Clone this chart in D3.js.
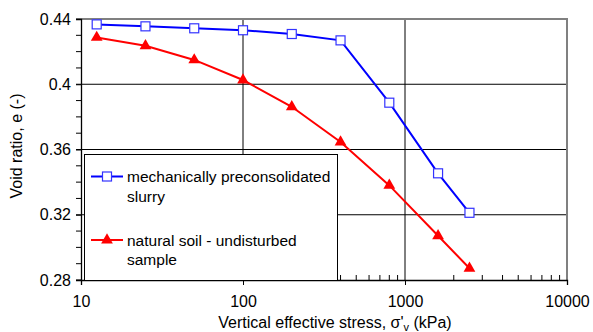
<!DOCTYPE html>
<html><head><meta charset="utf-8">
<script src="https://cdn.jsdelivr.net/npm/d3@7"></script>
<style>body{margin:0;background:#fff}svg{display:block;font-family:"Liberation Sans",Arial,sans-serif}</style>
</head><body>
<div id="chart"></div>
<script>
const stress = [12.5, 25, 50, 100, 200, 400, 800, 1600, 2500];
const slurry = [0.4367, 0.4355, 0.4343, 0.4331, 0.4308, 0.4269, 0.3887, 0.3454, 0.3212];
const natural = [0.4287, 0.4236, 0.4149, 0.4026, 0.3862, 0.3646, 0.3380, 0.3071, 0.2872];
const xTicks = [10, 100, 1000, 10000];
const yTicks = [0.28, 0.32, 0.36, 0.40, 0.44];
const seriesNames = ["mechanically preconsolidated|slurry", "natural soil - undisturbed|sample"];

const W = 593, H = 332;
const m = {l: 81, r: 26, t: 19, b: 52};
const FONT = "Liberation Sans, Arial, sans-serif";
const svg = d3.select("#chart").append("svg").attr("width", W).attr("height", H);
const x = d3.scaleLog().domain([10, 10000]).range([m.l, W - m.r]);
const y = d3.scaleLinear().domain([0.28, 0.44]).range([H - m.b, m.t]);
const x0 = x.range()[0], x1 = x.range()[1], y0 = y.range()[0], y1 = y.range()[1];

// gridlines
const g = svg.append("g");
yTicks.filter(d => d > 0.28 && d < 0.44).forEach(d => {
  g.append("line").attr("x1", x0).attr("x2", x1).attr("y1", y(d)).attr("y2", y(d)).attr("stroke", "#000").attr("stroke-width", 1);
});
xTicks.filter(d => d > 10 && d < 10000).forEach(d => {
  g.append("line").attr("x1", x(d)).attr("x2", x(d)).attr("y1", y0).attr("y2", y1).attr("stroke", "#000").attr("stroke-width", 1);
});
// plot border top & right gray
g.append("line").attr("x1", x0).attr("x2", x1 + 1).attr("y1", y1).attr("y2", y1).attr("stroke", "#808080").attr("stroke-width", 2);
g.append("line").attr("x1", x1).attr("x2", x1).attr("y1", y1).attr("y2", y0).attr("stroke", "#808080").attr("stroke-width", 2);

// x minor ticks (inside)
const minors = [];
[10, 100, 1000].forEach(dec => { for (let k = 2; k <= 9; k++) minors.push(dec * k); });
svg.append("g").selectAll("line").data(minors).join("line")
  .attr("x1", d => x(d)).attr("x2", d => x(d)).attr("y1", y0).attr("y2", y0 - 5)
  .attr("stroke", "#000").attr("stroke-width", 1);

// x axis
const xa = svg.append("g").attr("transform", `translate(0,${y0})`)
  .call(d3.axisBottom(x).tickValues(xTicks).tickFormat(d3.format("d")).tickSize(5).tickPadding(11));
xa.select(".domain").attr("stroke-width", 1.3);
xa.selectAll("text").attr("font-size", 16).attr("fill", "#000").attr("font-family", FONT);

// y axis
const yMinor = d3.range(28, 45).map(v => v / 100);
svg.append("g").selectAll("line").data(yMinor).join("line")
  .attr("x1", x0 - 5).attr("x2", x0).attr("y1", d => y(d)).attr("y2", d => y(d))
  .attr("stroke", "#000").attr("stroke-width", 1);
const ya = svg.append("g").attr("transform", `translate(${x0},0)`)
  .call(d3.axisLeft(y).tickValues(yTicks).tickFormat(d => d3.format(".2~f")(d)).tickSize(5).tickPadding(5));
ya.select(".domain").attr("stroke-width", 1.3);
ya.selectAll("text").attr("font-size", 16).attr("fill", "#000").attr("font-family", FONT);

// series
const line = d3.line().x(d => x(d[0])).y(d => y(d[1]));
const dBlue = stress.map((s, i) => [s, slurry[i]]);
const dRed = stress.map((s, i) => [s, natural[i]]);
const tri = d3.symbol().type(d3.symbolTriangle).size(60);

svg.append("path").datum(dRed).attr("d", line).attr("fill", "none").attr("stroke", "#ff0000").attr("stroke-width", 2);
svg.append("g").selectAll("path").data(dRed).join("path")
  .attr("d", tri).attr("transform", d => `translate(${x(d[0])},${y(d[1])})`).attr("fill", "#ff0000");
svg.append("path").datum(dBlue).attr("d", line).attr("fill", "none").attr("stroke", "#0000ff").attr("stroke-width", 2);
svg.append("g").selectAll("rect").data(dBlue).join("rect")
  .attr("x", d => x(d[0]) - 4.5).attr("y", d => y(d[1]) - 4.5).attr("width", 9).attr("height", 9)
  .attr("fill", "#fff").attr("stroke", "#3333ff").attr("stroke-width", 1.2);

// legend
const lg = svg.append("g");
lg.append("rect").attr("x", 84.5).attr("y", 154.5).attr("width", 253).attr("height", 126)
  .attr("fill", "#fff").attr("stroke", "#000").attr("stroke-width", 1);
const items = [{c: "#0000ff", y: 176.5, t: seriesNames[0], sq: true}, {c: "#ff0000", y: 240, t: seriesNames[1], sq: false}];
items.forEach(it => {
  lg.append("line").attr("x1", 91).attr("x2", 123).attr("y1", it.y).attr("y2", it.y).attr("stroke", it.c).attr("stroke-width", 2);
  if (it.sq) lg.append("rect").attr("x", 102.5).attr("y", it.y - 4.5).attr("width", 9).attr("height", 9).attr("fill", "#fff").attr("stroke", "#3333ff").attr("stroke-width", 1.2);
  else lg.append("path").attr("d", tri).attr("transform", `translate(107,${it.y})`).attr("fill", it.c);
  const lines = it.t.split("|");
  lines.forEach((s, i) => {
    lg.append("text").attr("x", 127).attr("y", it.y + 5.5 + i * 19.5).attr("font-size", 15.5).attr("fill", "#000").text(s);
  });
});

// axis titles
svg.append("text").attr("transform", `translate(22,146) rotate(-90)`).attr("text-anchor", "middle")
  .attr("font-size", 16).attr("fill", "#000").text("Void ratio, e (-)");
const xt = svg.append("text").attr("x", 335).attr("y", 328).attr("text-anchor", "middle").attr("font-size", 16).attr("fill", "#000");
xt.append("tspan").text("Vertical effective stress, ");
xt.append("tspan").text("σ'");
xt.append("tspan").attr("font-size", 11).attr("dy", 3).text("v");
xt.append("tspan").attr("dy", -3).text(" (kPa)");
</script>
</body></html>
